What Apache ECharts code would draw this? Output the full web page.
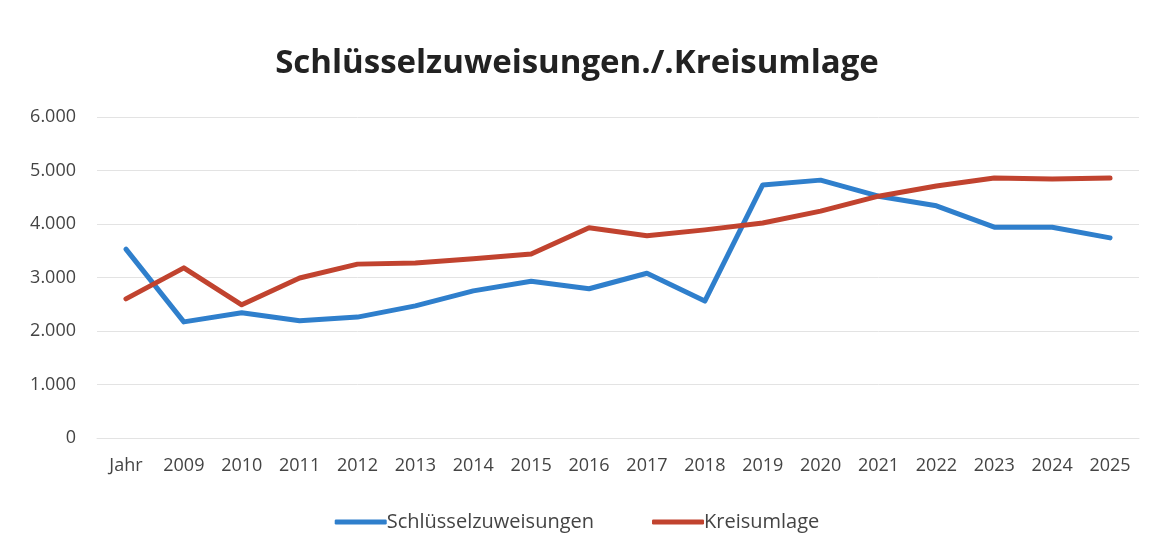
<!DOCTYPE html>
<html>
<head>
<meta charset="utf-8">
<script src="https://cdn.jsdelivr.net/npm/echarts@6/dist/echarts.min.js"></script>
<style>
  html, body { margin: 0; padding: 0; background: #fff; }
  #chart { width: 1154px; height: 551px; }
</style>
</head>
<body>
<div id="chart"></div>
<script>
const categories = ['Jahr', '2009', '2010', '2011', '2012', '2013', '2014', '2015', '2016',
  '2017', '2018', '2019', '2020', '2021', '2022', '2023', '2024', '2025'];
const schluessel = [3530, 2170, 2340, 2190, 2260, 2470, 2750, 2930, 2790,
  3080, 2560, 4730, 4820, 4520, 4340, 3940, 3940, 3740];
const kreisumlage = [2600, 3180, 2490, 2990, 3250, 3270, 3350, 3440, 3930,
  3780, 3890, 4020, 4240, 4520, 4710, 4860, 4840, 4860];

const font = 'Open Sans';
const chart = echarts.init(document.getElementById('chart'));

// Tausendertrennzeichen mit Punkt
function fmt(v) {
  return String(v).replace(/\B(?=(\d{3})+(?!\d))/g, '.');
}

chart.setOption({
  animation: false,
  backgroundColor: '#fff',
  title: {
    text: 'Schlüsselzuweisungen./.Kreisumlage',
    left: 'center',
    top: 42,
    textStyle: { fontFamily: font, fontWeight: 'bold', fontSize: 33, color: '#222' }
  },
  legend: {
    bottom: 14,
    left: 'center',
    itemWidth: 52,
    itemHeight: 5,
    itemGap: 58,
    icon: 'roundRect',
    textStyle: { fontFamily: font, fontSize: 20, color: '#444', padding: [0, 0, 0, -5] },
    data: ['Schlüsselzuweisungen', 'Kreisumlage']
  },
  grid: { left: 97, right: 15, top: 117, bottom: 113 },
  xAxis: {
    type: 'category',
    data: categories,
    boundaryGap: true,
    axisLine: { lineStyle: { color: '#e3e3e3' } },
    axisTick: { show: false },
    axisLabel: { fontFamily: font, fontSize: 18, color: '#444', margin: 19 }
  },
  yAxis: {
    type: 'value',
    min: 0,
    max: 6000,
    interval: 1000,
    axisLine: { show: false },
    axisTick: { show: false },
    splitLine: { lineStyle: { color: '#e3e3e3', width: 1 } },
    axisLabel: { fontFamily: font, fontSize: 18, color: '#444', margin: 21, formatter: fmt }
  },
  series: [
    {
      name: 'Schlüsselzuweisungen',
      type: 'line',
      data: schluessel,
      showSymbol: false,
      symbol: 'none',
      color: '#2f7fcc',
      lineStyle: { width: 5, color: '#2f7fcc', cap: 'round', join: 'round' }
    },
    {
      name: 'Kreisumlage',
      type: 'line',
      data: kreisumlage,
      showSymbol: false,
      symbol: 'none',
      color: '#c1432f',
      lineStyle: { width: 5, color: '#c1432f', cap: 'round', join: 'round' }
    }
  ]
});
</script>
</body>
</html>
